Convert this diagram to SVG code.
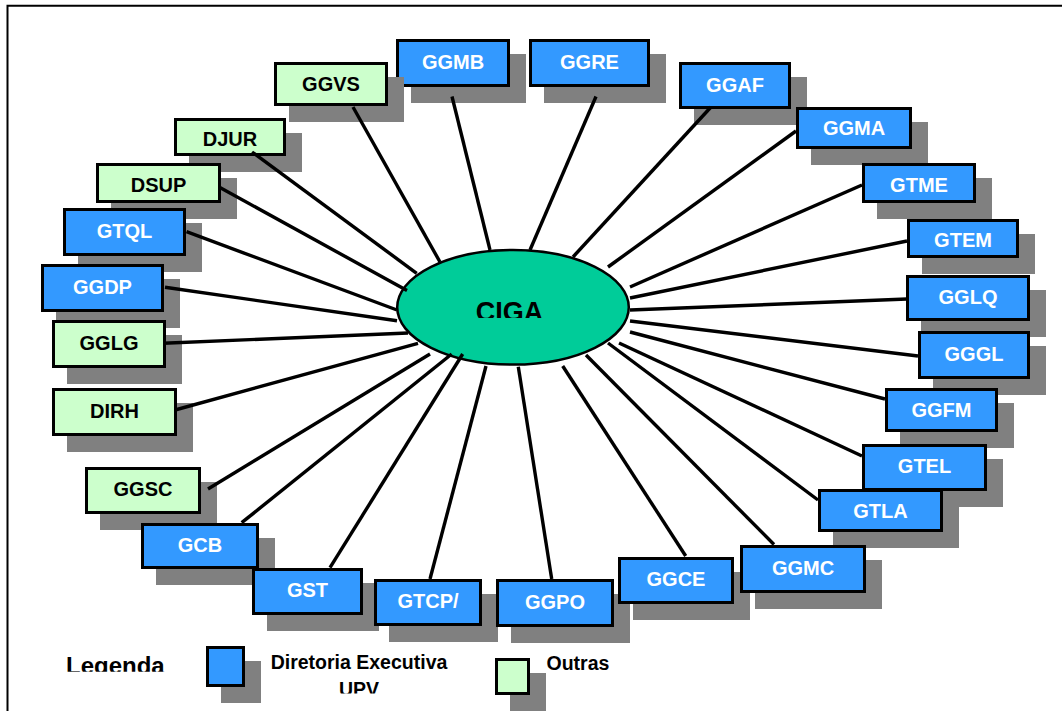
<svg xmlns="http://www.w3.org/2000/svg" width="1062" height="711" viewBox="0 0 1062 711">
<style>
.sh{fill:#808080}
.b{fill:#3399FF;stroke:#000;stroke-width:3}
.g{fill:#CCFFCC;stroke:#000;stroke-width:3}
.tw{font-family:"Liberation Sans",Arial,sans-serif;font-weight:bold;font-size:20px;fill:#fff;text-anchor:middle}
.tk{font-family:"Liberation Sans",Arial,sans-serif;font-weight:bold;font-size:20px;fill:#000;text-anchor:middle}
.lg{font-family:"Liberation Sans",Arial,sans-serif;font-weight:bold;fill:#000}
#connectors line{stroke:#000;stroke-width:3.4;stroke-linecap:butt}
</style>
<defs>
<clipPath id="clipCiga"><rect x="380" y="240" width="270" height="78"/></clipPath>
<clipPath id="clipLeg"><rect x="40" y="640" width="160" height="31.7"/></clipPath>
<clipPath id="clipUpv"><rect x="300" y="675" width="120" height="18.5"/></clipPath>
</defs>
<rect width="1062" height="711" fill="#fff"/>
<path d="M7.5,711 V5.7 H1062" fill="none" stroke="#000" stroke-width="2"/>

<g id="nodes">
<g id="GGMB"><rect class="sh" x="411" y="54" width="115" height="49"/><rect class="b" x="397.5" y="40.5" width="111" height="45"/><text class="tw" x="453" y="69">GGMB</text></g>
<g id="GGVS"><rect class="sh" x="289" y="77" width="115" height="45"/><rect class="g" x="275.5" y="63.5" width="111" height="41"/><text class="tk" x="331" y="91">GGVS</text></g>
<g id="GGRE"><rect class="sh" x="544" y="54" width="122" height="49"/><rect class="b" x="530.5" y="40.5" width="118" height="45"/><text class="tw" x="589.5" y="69">GGRE</text></g>
<g id="GGAF"><rect class="sh" x="694" y="77" width="113" height="48"/><rect class="b" x="680.5" y="63.5" width="109" height="44"/><text class="tw" x="735" y="91.7">GGAF</text></g>
<g id="GGMA"><rect class="sh" x="811" y="122" width="117" height="43"/><rect class="b" x="797.5" y="108.5" width="113" height="39"/><text class="tw" x="854" y="135">GGMA</text></g>
<g id="GTME"><rect class="sh" x="877" y="178" width="115" height="41"/><rect class="b" x="863.5" y="164.5" width="111" height="37"/><text class="tw" x="919" y="191.5">GTME</text></g>
<g id="GTEM"><rect class="sh" x="922" y="234" width="113" height="40"/><rect class="b" x="908.5" y="220.5" width="109" height="36"/><text class="tw" x="963" y="247">GTEM</text></g>
<g id="GGLQ"><rect class="sh" x="921" y="290" width="125" height="47"/><rect class="b" x="907.5" y="276.5" width="121" height="43"/><text class="tw" x="968" y="304.3">GGLQ</text></g>
<g id="GGGL"><rect class="sh" x="933" y="346" width="113" height="49"/><rect class="b" x="919.5" y="332.5" width="109" height="45"/><text class="tw" x="974" y="360.7">GGGL</text></g>
<g id="GGFM"><rect class="sh" x="900" y="403" width="114" height="45"/><rect class="b" x="886.5" y="389.5" width="110" height="41"/><text class="tw" x="941.5" y="416.7">GGFM</text></g>
<g id="GTEL"><rect class="sh" x="877" y="459" width="126" height="48"/><rect class="b" x="863.5" y="445.5" width="122" height="44"/><text class="tw" x="924.5" y="473.3">GTEL</text></g>
<g id="GTLA"><rect class="sh" x="833" y="504" width="126" height="44"/><rect class="b" x="819.5" y="490.5" width="122" height="40"/><text class="tw" x="880.5" y="517.7">GTLA</text></g>
<g id="DJUR"><rect class="sh" x="189" y="133" width="113" height="39"/><rect class="g" x="175.5" y="119.5" width="109" height="35"/><text class="tk" x="230" y="146">DJUR</text></g>
<g id="DSUP"><rect class="sh" x="111" y="178" width="126" height="41"/><rect class="g" x="97.5" y="164.5" width="122" height="37"/><text class="tk" x="158.5" y="192">DSUP</text></g>
<g id="GTQL"><rect class="sh" x="78" y="223" width="124" height="49"/><rect class="b" x="64.5" y="209.5" width="120" height="45"/><text class="tw" x="124.5" y="238.3">GTQL</text></g>
<g id="GGDP"><rect class="sh" x="56" y="279" width="124" height="49"/><rect class="b" x="42.5" y="265.5" width="120" height="45"/><text class="tw" x="102.5" y="294">GGDP</text></g>
<g id="GGLG"><rect class="sh" x="67" y="335" width="115" height="49"/><rect class="g" x="53.5" y="321.5" width="111" height="45"/><text class="tk" x="109" y="350">GGLG</text></g>
<g id="DIRH"><rect class="sh" x="67" y="403" width="126" height="49"/><rect class="g" x="53.5" y="389.5" width="122" height="45"/><text class="tk" x="114.5" y="417.7">DIRH</text></g>
<g id="GGSC"><rect class="sh" x="100" y="482" width="117" height="48"/><rect class="g" x="86.5" y="468.5" width="113" height="44"/><text class="tk" x="143" y="495.7">GGSC</text></g>
<g id="GCB"><rect class="sh" x="156" y="538" width="119" height="47"/><rect class="b" x="142.5" y="524.5" width="115" height="43"/><text class="tw" x="200" y="552.3">GCB</text></g>
<g id="GST"><rect class="sh" x="267" y="583" width="112" height="48"/><rect class="b" x="253.5" y="569.5" width="108" height="44"/><text class="tw" x="307.5" y="596.7">GST</text></g>
<g id="GTCP"><rect class="sh" x="389" y="594" width="109" height="48"/><rect class="b" x="375.5" y="580.5" width="105" height="44"/><text class="tw" x="428" y="608.3">GTCP/</text></g>
<g id="GGPO"><rect class="sh" x="511" y="594" width="119" height="49"/><rect class="b" x="497.5" y="580.5" width="115" height="45"/><text class="tw" x="555" y="609">GGPO</text></g>
<g id="GGCE"><rect class="sh" x="633" y="572" width="117" height="48"/><rect class="b" x="619.5" y="558.5" width="113" height="44"/><text class="tw" x="676" y="586">GGCE</text></g>
<g id="GGMC"><rect class="sh" x="755" y="560" width="127" height="49"/><rect class="b" x="741.5" y="546.5" width="123" height="45"/><text class="tw" x="803" y="574.7">GGMC</text></g>
<g id="CIGA"><ellipse cx="513" cy="307.3" rx="115.8" ry="57.3" fill="#00CC99" stroke="#000" stroke-width="2.5"/><text class="lg" x="509.5" y="321" font-size="27" text-anchor="middle" clip-path="url(#clipCiga)">CIGA</text></g>
</g>

<g id="connectors">
<line x1="452" y1="96.5" x2="490" y2="250"/>
<line x1="596" y1="96.5" x2="530" y2="250"/>
<line x1="711" y1="107" x2="573" y2="257"/>
<line x1="796" y1="131" x2="608" y2="267"/>
<line x1="862" y1="185" x2="630" y2="287"/>
<line x1="907" y1="241" x2="630" y2="298"/>
<line x1="907" y1="299" x2="630" y2="310"/>
<line x1="918" y1="356" x2="630" y2="321"/>
<line x1="885" y1="399" x2="630" y2="332"/>
<line x1="862" y1="456" x2="619" y2="343"/>
<line x1="818" y1="500" x2="608" y2="343"/>
<line x1="774" y1="544.5" x2="586" y2="355"/>
<line x1="685.7" y1="556" x2="562.7" y2="366"/>
<line x1="551.7" y1="579" x2="518.3" y2="366.7"/>
<line x1="430" y1="579" x2="486" y2="366"/>
<line x1="330" y1="567.7" x2="462.7" y2="354"/>
<line x1="241.7" y1="522.7" x2="451.7" y2="354"/>
<line x1="208" y1="489" x2="430" y2="354"/>
<line x1="175" y1="410" x2="418" y2="343.3"/>
<line x1="163.3" y1="343.3" x2="408" y2="333"/>
<line x1="165" y1="287.3" x2="397" y2="320.7"/>
<line x1="186.5" y1="231.7" x2="397" y2="310"/>
<line x1="219" y1="187" x2="407" y2="290.5"/>
<line x1="252" y1="152" x2="416.7" y2="273.3"/>
<line x1="353" y1="107" x2="440" y2="262"/>
</g>

<g id="legend">
<text class="lg" x="66" y="674" font-size="24" clip-path="url(#clipLeg)">Legenda</text>
<g id="legend-blue"><rect class="sh" x="221" y="661" width="40" height="42"/><rect class="b" x="207.5" y="647.5" width="36" height="38"/></g>
<text class="lg" x="359" y="669.3" font-size="19.5" text-anchor="middle">Diretoria Executiva</text>
<text class="lg" x="359" y="695.5" font-size="19.5" text-anchor="middle" clip-path="url(#clipUpv)">UPV</text>
<g id="legend-green"><rect class="sh" x="510" y="673" width="36" height="38"/><rect class="g" x="496.5" y="659.5" width="32" height="34"/></g>
<text class="lg" x="546.5" y="670" font-size="19.5">Outras</text>
</g>
</svg>
